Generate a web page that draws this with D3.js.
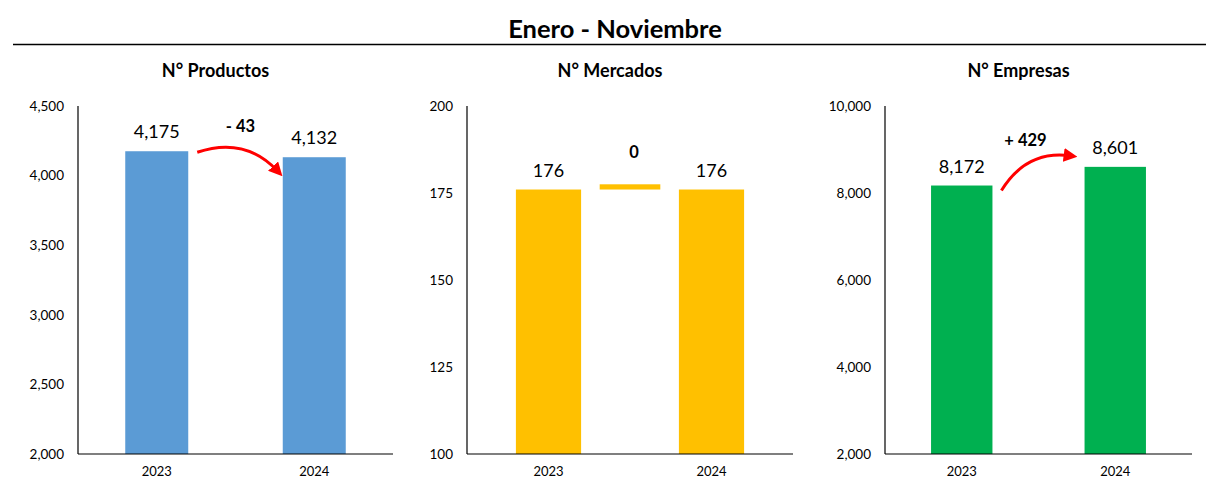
<!DOCTYPE html>
<html>
<head>
<meta charset="utf-8">
<script src="https://cdn.jsdelivr.net/npm/d3@7"></script>
<style>
  body { margin: 0; background: #fff; }
  svg text { font-family: Lato, "Open Sans", sans-serif; }
</style>
</head>
<body>
<div id="chart"></div>
<script>
var years = ["2023", "2024"];
var productos = [4175, 4132];
var mercados = [176, 176];
var empresas = [8172, 8601];
var panelTitles = ["N° Productos", "N° Mercados", "N° Empresas"];
var deltaLabels = ["- 43", "0", "+ 429"];
var yDomains = [[2000, 4500], [100, 200], [2000, 10000]];
var yTicks = [
    [2000, 2500, 3000, 3500, 4000, 4500],
    [100, 125, 150, 175, 200],
    [2000, 4000, 6000, 8000, 10000]
];
// small floating bar for the "0" change in Mercados
var mercadosDelta = [176, 177.5];

var width = 1206;
var height = 482;
var plotTop = 106, plotBottom = 454;
var panels = [
    {x0: 78, x1: 393, values: productos, color: "#5B9BD5", arrow: "down"},
    {x0: 467, x1: 793, values: mercados, color: "#FFC000", arrow: "none"},
    {x0: 885, x1: 1192, values: empresas, color: "#00B050", arrow: "up"}
];

var svg = d3.select("#chart")
    .append("svg")
    .attr("width", width)
    .attr("height", height);

svg.append("defs")
    .append("marker")
    .attr("id", "head")
    .attr("viewBox", "0 0 10 10")
    .attr("refX", 5)
    .attr("refY", 5)
    .attr("markerWidth", 4.6)
    .attr("markerHeight", 4.6)
    .attr("orient", "auto")
    .append("path")
    .attr("d", "M0,0 L10,5 L0,10 z")
    .attr("fill", "#FF0000");

svg.append("text")
    .attr("x", 615)
    .attr("y", 38)
    .attr("text-anchor", "middle")
    .style("font-size", "25.5px")
    .style("font-weight", "bold")
    .text("Enero - Noviembre");

svg.append("line")
    .attr("x1", 13).attr("x2", 1206)
    .attr("y1", 44.5).attr("y2", 44.5)
    .attr("stroke", "#000")
    .attr("stroke-width", 1.3);

panels.forEach(function(p, i){
    var x = d3.scaleBand()
        .domain(years)
        .range([p.x0, p.x1])
        .paddingInner(0.6)
        .paddingOuter(0.3);
    var y = d3.scaleLinear()
        .domain(yDomains[i])
        .range([plotBottom, plotTop]);

    var g = svg.append("g");

    g.append("text")
        .attr("x", (p.x0 + p.x1) / 2 - 20)
        .attr("y", 77)
        .attr("text-anchor", "middle")
        .style("font-size", "18px")
        .style("font-weight", "bold")
        .text(panelTitles[i]);

    var yAxis = g.append("g")
        .attr("transform", "translate(" + p.x0 + ",0)")
        .call(d3.axisLeft(y).tickValues(yTicks[i]).tickSize(0).tickPadding(14).tickFormat(d3.format(",")));
    yAxis.select(".domain").remove();
    yAxis.selectAll("text")
        .style("font-size", "13.5px")
        .style("font-family", "Lato, sans-serif")
        .attr("fill", "#000");

    var xAxis = g.append("g")
        .attr("transform", "translate(0," + plotBottom + ")")
        .call(d3.axisBottom(x).tickSize(0).tickPadding(13));
    xAxis.select(".domain").remove();
    xAxis.selectAll("text")
        .style("font-size", "13px")
        .style("font-family", "Lato, sans-serif")
        .attr("fill", "#000");

    g.selectAll("rect.bar")
        .data(p.values)
        .enter()
        .append("rect")
        .attr("class", "bar")
        .attr("x", function(d, j){ return x(years[j]); })
        .attr("y", function(d){ return y(d); })
        .attr("width", x.bandwidth())
        .attr("height", function(d){ return plotBottom - y(d); })
        .attr("fill", p.color);

    g.selectAll("text.val")
        .data(p.values)
        .enter()
        .append("text")
        .attr("class", "val")
        .attr("x", function(d, j){ return x(years[j]) + x.bandwidth() / 2; })
        .attr("y", function(d){ return y(d) - 13; })
        .attr("text-anchor", "middle")
        .style("font-size", "18px")
        .text(function(d){ return d3.format(",")(d); });

    // axes lines
    g.append("line")
        .attr("x1", p.x0).attr("x2", p.x0)
        .attr("y1", plotTop).attr("y2", plotBottom)
        .attr("stroke", "#000").attr("stroke-width", 1.2);
    g.append("line")
        .attr("x1", p.x0).attr("x2", p.x1)
        .attr("y1", plotBottom).attr("y2", plotBottom)
        .attr("stroke", "#000").attr("stroke-width", 1.2);

    var b1 = x(years[0]) + x.bandwidth();
    var b2 = x(years[1]);
    var mid = (b1 + b2) / 2;
    var v0 = p.values[0], v1 = p.values[1];

    if(p.arrow == "none"){
        var w = x.bandwidth() * 0.93;
        g.append("rect")
            .attr("x", mid - w / 2)
            .attr("y", y(mercadosDelta[1]))
            .attr("width", w)
            .attr("height", y(mercadosDelta[0]) - y(mercadosDelta[1]))
            .attr("fill", p.color);
        g.append("text")
            .attr("x", mid + 4)
            .attr("y", y(mercadosDelta[1]) - 26)
            .attr("text-anchor", "middle")
            .style("font-size", "16.5px")
            .style("font-weight", "bold")
            .text(deltaLabels[i]);
    } else if(p.arrow == "down"){
        var sx = b1 + 9, sy = y(v0) + 1;
        var ex = b2 - 5, ey = y(v1) + 14;
        g.append("path")
            .attr("d", "M" + sx + "," + sy + " Q" + (sx + 48) + "," + (sy - 16) + " " + ex + "," + ey)
            .attr("fill", "none")
            .attr("stroke", "#FF0000")
            .attr("stroke-width", 3)
            .attr("marker-end", "url(#head)");
        g.append("text")
            .attr("x", mid + 5)
            .attr("y", y(v0) - 19)
            .attr("text-anchor", "middle")
            .style("font-size", "16.5px")
            .style("font-weight", "bold")
            .text(deltaLabels[i]);
    } else {
        var sx2 = b1 + 9, sy2 = y(v0) + 5;
        var ex2 = b2 - 14, ey2 = y(v1) - 11;
        g.append("path")
            .attr("d", "M" + sx2 + "," + sy2 + " Q" + (sx2 + 25) + "," + (ey2 - 6) + " " + ex2 + "," + ey2)
            .attr("fill", "none")
            .attr("stroke", "#FF0000")
            .attr("stroke-width", 3)
            .attr("marker-end", "url(#head)");
        g.append("text")
            .attr("x", mid - 13)
            .attr("y", y(v1) - 21)
            .attr("text-anchor", "middle")
            .style("font-size", "16.5px")
            .style("font-weight", "bold")
            .text(deltaLabels[i]);
    }
});
</script>
</body>
</html>
